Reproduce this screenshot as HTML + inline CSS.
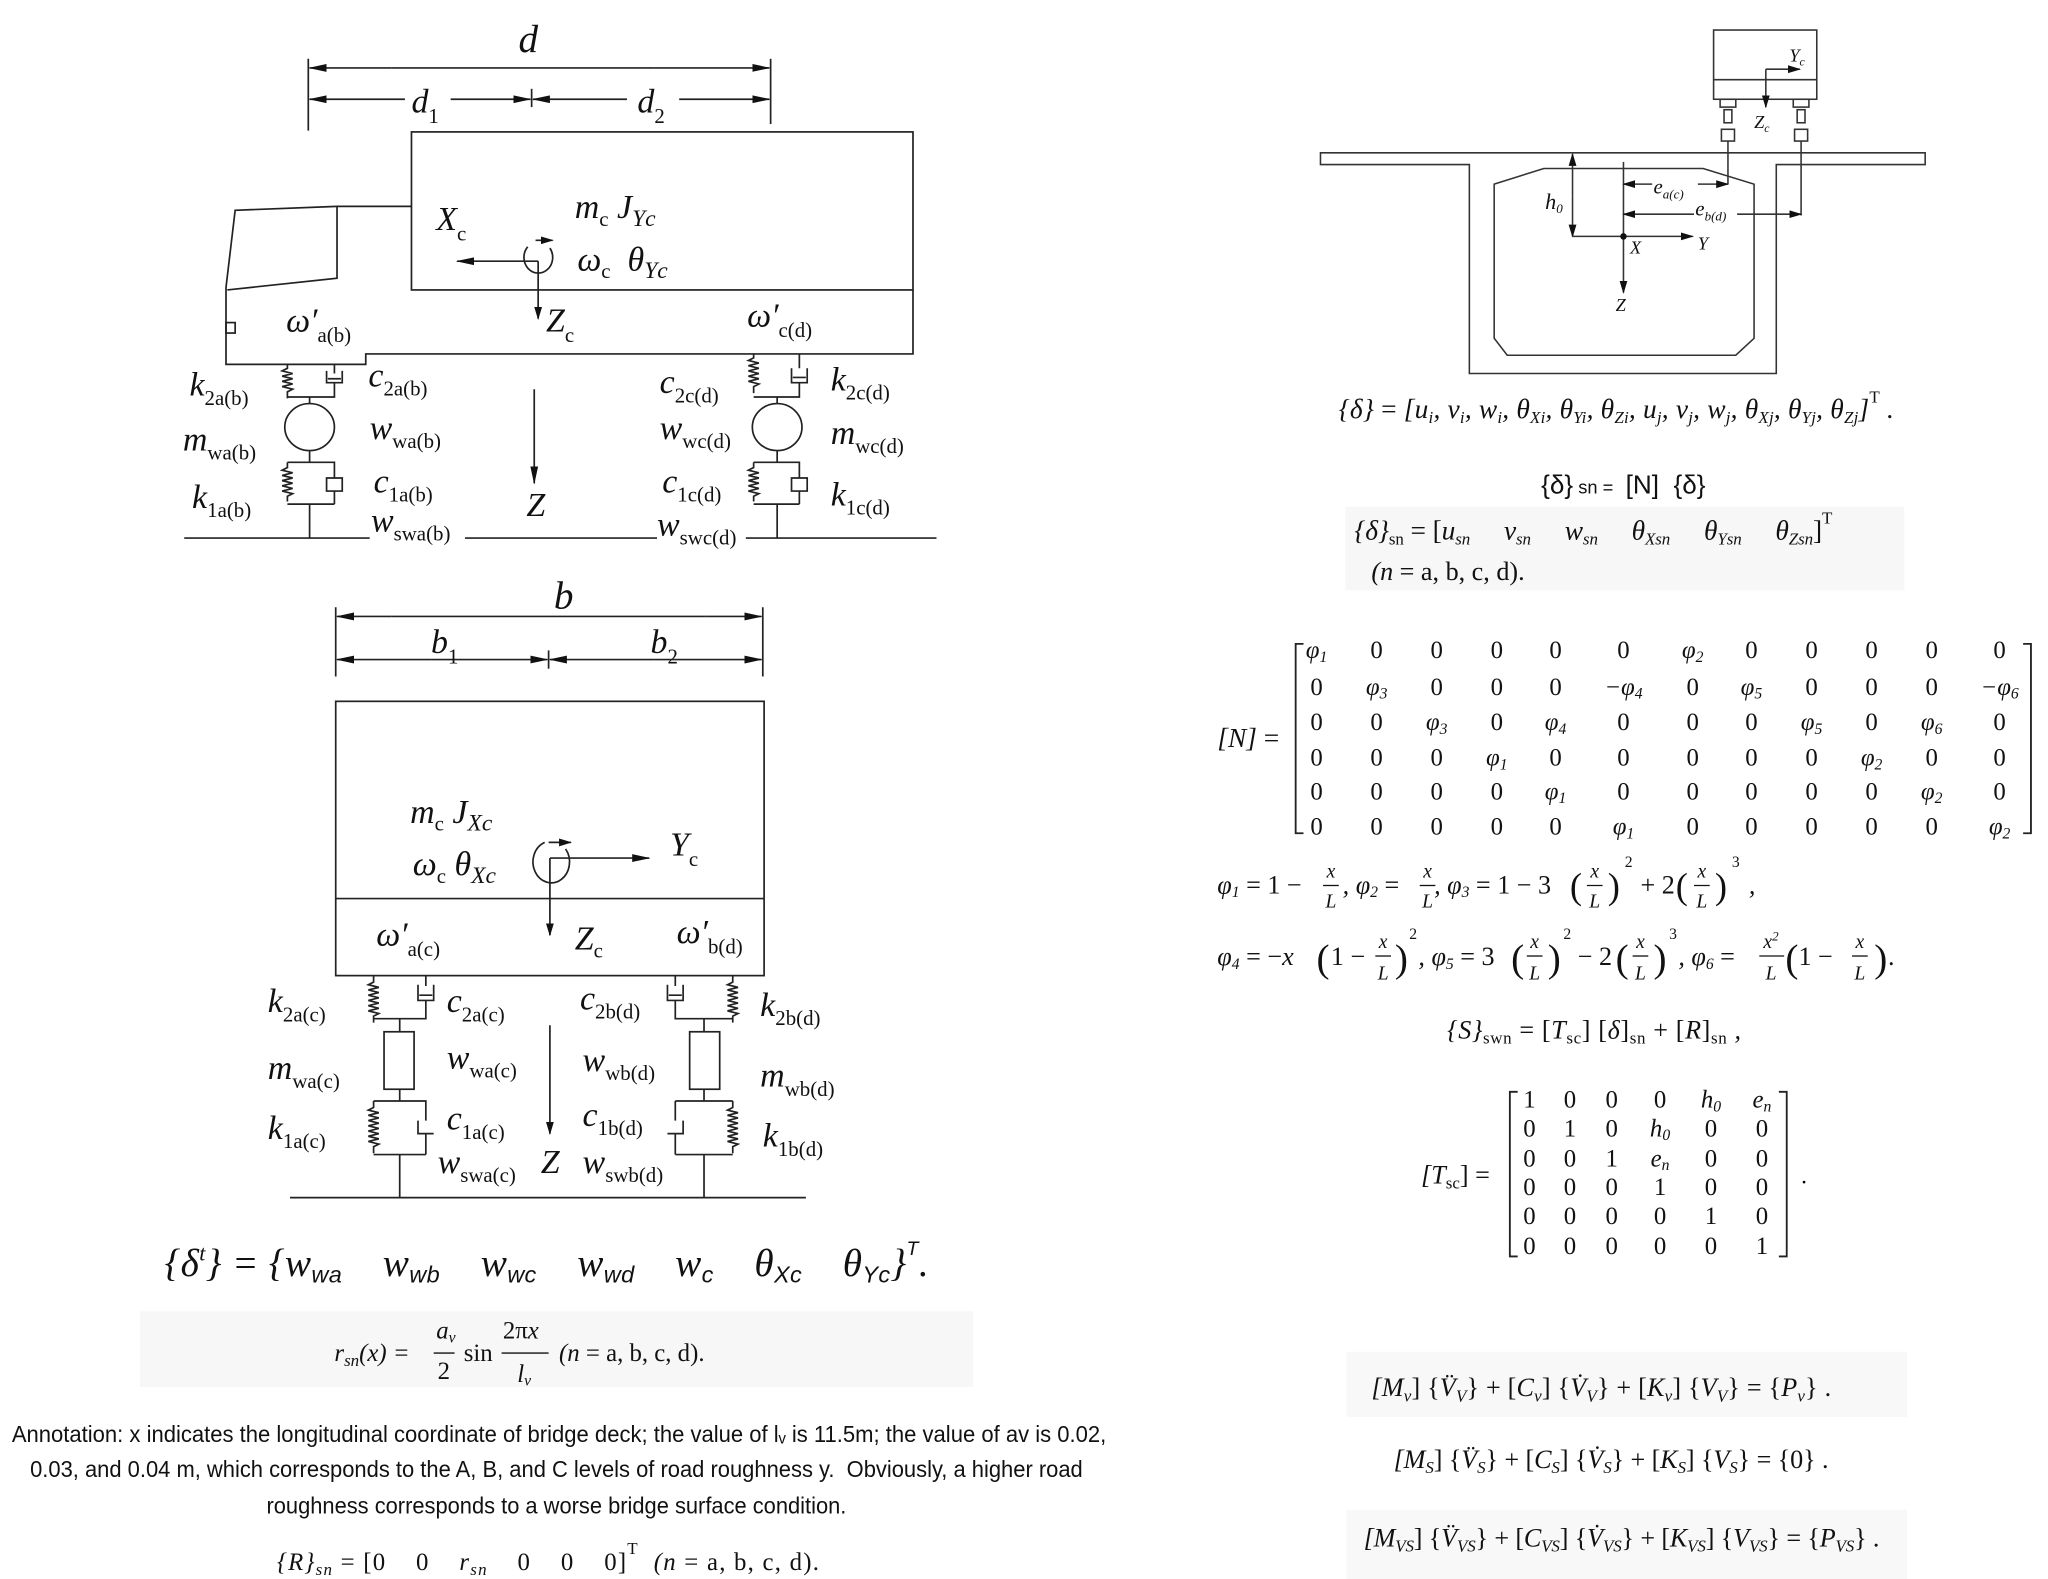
<!DOCTYPE html>
<html><head><meta charset="utf-8"><style>
html,body{margin:0;padding:0;background:#fff;}
svg{display:block}
text{white-space:pre}
.m{font-family:"Liberation Serif",serif;font-style:italic;fill:#111}
.u{font-family:"Liberation Serif",serif;font-style:normal}
.s{font-family:"Liberation Sans",sans-serif;fill:#111}
</style></head><body>
<svg width="2048" height="1579" viewBox="0 0 1568 1209" xmlns="http://www.w3.org/2000/svg">
<defs>
<marker id="a" markerWidth="10" markerHeight="8" refX="9" refY="4" orient="auto" markerUnits="userSpaceOnUse"><path d="M0,1 L10,4 L0,7 Z" fill="#111"/></marker>
<marker id="b" markerWidth="14" markerHeight="8" refX="13" refY="4" orient="auto" markerUnits="userSpaceOnUse"><path d="M0,1 L14,4 L0,7 Z" fill="#111"/></marker>
</defs>
<rect width="1568" height="1209" fill="#fff"/>

<!-- ================= TOP LEFT (side view) ================= -->
<g stroke="#222" stroke-width="1.3" fill="none">
<line x1="236" y1="45" x2="236" y2="100"/><line x1="590" y1="45" x2="590" y2="95"/>
<line x1="407" y1="68" x2="407" y2="82"/>
<line x1="300" y1="52" x2="237" y2="52" marker-end="url(#b)"/><line x1="500" y1="52" x2="589" y2="52" marker-end="url(#b)"/>
<line x1="300" y1="52" x2="500" y2="52"/>
<line x1="310" y1="76" x2="237" y2="76" marker-end="url(#b)"/><line x1="345" y1="76" x2="406" y2="76" marker-end="url(#b)"/>
<line x1="480" y1="76" x2="408" y2="76" marker-end="url(#b)"/><line x1="520" y1="76" x2="589" y2="76" marker-end="url(#b)"/>
<rect x="315" y="101" width="384" height="121"/>
<path d="M315,158 L258,158 L180,161 L173,220 L173,279 L280,279 L280,271 L699,271 L699,222"/>
<path d="M258,158 L258,213 L174,222"/>
<rect x="173" y="247" width="7" height="8"/>
<path d="M404,189 A11,12 0 1 0 421,190" />
<line x1="410" y1="184" x2="423" y2="184" marker-end="url(#a)"/>
<line x1="412" y1="200" x2="350" y2="200" marker-end="url(#b)"/>
<line x1="412" y1="200" x2="412" y2="244" marker-end="url(#a)"/>
<line x1="409" y1="298" x2="409" y2="370" marker-end="url(#b)"/>
<line x1="141" y1="412" x2="283" y2="412"/><line x1="356" y1="412" x2="503" y2="412"/><line x1="571" y1="412" x2="717" y2="412"/>
<path d="M220,279 v3 l-4,2 l8,2 l-8,2 l8,2 l-8,2 l8,2 l-8,2 l8,2 l-4,2 v5 M220,304 H256 V293 M256,279 v7 M250,284 v9 h12 v-9 M251,290 h10"/>
<line x1="237" y1="304" x2="237" y2="309"/>
<ellipse cx="237" cy="327" rx="19" ry="18"/>
<line x1="237" y1="345" x2="237" y2="354"/>
<path d="M220,354 H256 V366 M250,366 h12 v10 h-12 z M256,376 V386 M220,354 v4 l-4,2 l8,2 l-8,2 l8,2 l-8,2 l8,2 l-8,2 l8,2 l-8,2 l8,2 l-4,2 v4 M220,386 H256 M237,386 V412"/>
<path d="M577,271 v3 l-4,2 l8,2 l-8,2 l8,2 l-8,2 l8,2 l-8,2 l8,2 l-8,2 l8,2 l-4,2 v5 M577,304 H612 V293 M612,271 v11 M606,282 v11 h12 v-11 M607,289 h10"/>
<line x1="595" y1="304" x2="595" y2="309"/>
<ellipse cx="595" cy="327" rx="19" ry="18"/>
<line x1="595" y1="345" x2="595" y2="354"/>
<path d="M577,354 H612 V366 M606,366 h12 v10 h-12 z M612,376 V386 M577,354 v4 l-4,2 l8,2 l-8,2 l8,2 l-8,2 l8,2 l-8,2 l8,2 l-8,2 l8,2 l-4,2 v4 M577,386 H612 M595,386 V412"/>
</g>
<g class="m" font-size="26">
<text x="397" y="40" font-size="30">d</text>
<text x="315" y="86">d<tspan class="u" font-size="16" dy="8">1</tspan></text>
<text x="488" y="86">d<tspan class="u" font-size="16" dy="8">2</tspan></text>
<text x="334" y="176">X<tspan class="u" font-size="16" dy="8">c</tspan></text>
<text x="440" y="167">m<tspan class="u" font-size="16" dy="6">c</tspan><tspan dy="-6"> J</tspan><tspan font-size="18" dy="6">Yc</tspan></text>
<text x="442" y="207">ω<tspan class="u" font-size="16" dy="6">c</tspan><tspan dy="-6">  θ</tspan><tspan font-size="18" dy="6">Yc</tspan></text>
<text x="418" y="254">Z<tspan class="u" font-size="16" dy="8">c</tspan></text>
<text x="219" y="254">ω′<tspan class="u" font-size="16" dy="8">a(b)</tspan></text>
<text x="572" y="250">ω′<tspan class="u" font-size="16" dy="8">c(d)</tspan></text>
<text x="145" y="303">k<tspan class="u" font-size="16" dy="7">2a(b)</tspan></text>
<text x="282" y="296">c<tspan class="u" font-size="16" dy="7">2a(b)</tspan></text>
<text x="140" y="345">m<tspan class="u" font-size="16" dy="7">wa(b)</tspan></text>
<text x="283" y="336">w<tspan class="u" font-size="16" dy="7">wa(b)</tspan></text>
<text x="147" y="389">k<tspan class="u" font-size="16" dy="7">1a(b)</tspan></text>
<text x="286" y="377">c<tspan class="u" font-size="16" dy="7">1a(b)</tspan></text>
<text x="284" y="407">w<tspan class="u" font-size="16" dy="7">swa(b)</tspan></text>
<text x="403" y="395">Z</text>
<text x="505" y="301">c<tspan class="u" font-size="16" dy="7">2c(d)</tspan></text>
<text x="505" y="336">w<tspan class="u" font-size="16" dy="7">wc(d)</tspan></text>
<text x="507" y="377">c<tspan class="u" font-size="16" dy="7">1c(d)</tspan></text>
<text x="503" y="410">w<tspan class="u" font-size="16" dy="7">swc(d)</tspan></text>
<text x="636" y="299">k<tspan class="u" font-size="16" dy="7">2c(d)</tspan></text>
<text x="636" y="340">m<tspan class="u" font-size="16" dy="7">wc(d)</tspan></text>
<text x="636" y="387">k<tspan class="u" font-size="16" dy="7">1c(d)</tspan></text>
</g>

<!-- ================= BOTTOM LEFT (front view) ================= -->
<g stroke="#222" stroke-width="1.3" fill="none">
<line x1="257" y1="465" x2="257" y2="518"/><line x1="584" y1="465" x2="584" y2="518"/>
<line x1="420" y1="498" x2="420" y2="512"/>
<line x1="300" y1="472" x2="258" y2="472" marker-end="url(#b)"/><line x1="540" y1="472" x2="583" y2="472" marker-end="url(#b)"/><line x1="300" y1="472" x2="540" y2="472"/>
<line x1="330" y1="505" x2="258" y2="505" marker-end="url(#b)"/><line x1="330" y1="505" x2="419" y2="505" marker-end="url(#b)"/>
<line x1="500" y1="505" x2="421" y2="505" marker-end="url(#b)"/><line x1="500" y1="505" x2="583" y2="505" marker-end="url(#b)"/>
<rect x="257" y="537" width="328" height="210"/>
<line x1="257" y1="688" x2="585" y2="688"/>
<path d="M417,645 A14,16 0 1 0 433,650"/>
<line x1="420" y1="645" x2="437" y2="645" marker-end="url(#a)"/>
<line x1="421" y1="657" x2="497" y2="657" marker-end="url(#b)"/>
<line x1="421" y1="657" x2="421" y2="716" marker-end="url(#a)"/>
<line x1="421" y1="785" x2="421" y2="868" marker-end="url(#a)"/>
<line x1="222" y1="917" x2="617" y2="917"/>
<path d="M286,747 v5 l-4,2 l8,2 l-8,2 l8,2 l-8,2 l8,2 l-8,2 l8,2 l-8,2 l8,2 l-8,2 l8,2 l-4,2 v5 M286,780 H326 V766 M326,747 v8 M320,754 v12 h12 v-12 M321,762 h10"/>
<line x1="306" y1="780" x2="306" y2="790"/>
<rect x="294" y="790" width="23" height="44"/>
<line x1="306" y1="834" x2="306" y2="843"/>
<path d="M286,843 H326 V858 M320,858 v10 h12 M326,868 V884 M286,843 v5 l-4,2 l8,2 l-8,2 l8,2 l-8,2 l8,2 l-8,2 l8,2 l-8,2 l8,2 l-8,2 l8,2 l-8,2 l8,2 l-4,2 v5 M286,884 H326 M306,884 V917"/>
<path d="M561,747 v5 l-4,2 l8,2 l-8,2 l8,2 l-8,2 l8,2 l-8,2 l8,2 l-8,2 l8,2 l-8,2 l8,2 l-4,2 v5 M561,780 H517 V766 M517,747 v8 M511,754 v12 h12 v-12 M512,762 h10"/>
<line x1="539" y1="780" x2="539" y2="790"/>
<rect x="528" y="790" width="23" height="44"/>
<line x1="539" y1="834" x2="539" y2="843"/>
<path d="M517,843 H561 M517,843 V858 M523,858 v10 h-12 M517,868 V884 M561,843 v5 l-4,2 l8,2 l-8,2 l8,2 l-8,2 l8,2 l-8,2 l8,2 l-8,2 l8,2 l-8,2 l8,2 l-8,2 l8,2 l-4,2 v5 M517,884 H561 M539,884 V917"/>
</g>
<g class="m" font-size="26">
<text x="424" y="466" font-size="30">b</text>
<text x="330" y="500">b<tspan class="u" font-size="16" dy="8">1</tspan></text>
<text x="498" y="500">b<tspan class="u" font-size="16" dy="8">2</tspan></text>
<text x="314" y="630">m<tspan class="u" font-size="16" dy="6">c</tspan><tspan dy="-6"> J</tspan><tspan font-size="18" dy="6">Xc</tspan></text>
<text x="316" y="670">ω<tspan class="u" font-size="16" dy="6">c</tspan><tspan dy="-6"> θ</tspan><tspan font-size="18" dy="6">Xc</tspan></text>
<text x="513" y="655">Y<tspan class="u" font-size="16" dy="8">c</tspan></text>
<text x="440" y="727">Z<tspan class="u" font-size="16" dy="6">c</tspan></text>
<text x="288" y="724">ω′<tspan class="u" font-size="16" dy="8">a(c)</tspan></text>
<text x="518" y="722">ω′<tspan class="u" font-size="16" dy="8">b(d)</tspan></text>
<text x="205" y="775">k<tspan class="u" font-size="16" dy="7">2a(c)</tspan></text>
<text x="342" y="775">c<tspan class="u" font-size="16" dy="7">2a(c)</tspan></text>
<text x="205" y="826">m<tspan class="u" font-size="16" dy="7">wa(c)</tspan></text>
<text x="342" y="818">w<tspan class="u" font-size="16" dy="7">wa(c)</tspan></text>
<text x="205" y="872">k<tspan class="u" font-size="16" dy="7">1a(c)</tspan></text>
<text x="342" y="865">c<tspan class="u" font-size="16" dy="7">1a(c)</tspan></text>
<text x="335" y="898">w<tspan class="u" font-size="16" dy="7">swa(c)</tspan></text>
<text x="414" y="898">Z</text>
<text x="444" y="773">c<tspan class="u" font-size="16" dy="7">2b(d)</tspan></text>
<text x="446" y="820">w<tspan class="u" font-size="16" dy="7">wb(d)</tspan></text>
<text x="446" y="862">c<tspan class="u" font-size="16" dy="7">1b(d)</tspan></text>
<text x="446" y="898">w<tspan class="u" font-size="16" dy="7">swb(d)</tspan></text>
<text x="582" y="778">k<tspan class="u" font-size="16" dy="7">2b(d)</tspan></text>
<text x="582" y="832">m<tspan class="u" font-size="16" dy="7">wb(d)</tspan></text>
<text x="584" y="878">k<tspan class="u" font-size="16" dy="7">1b(d)</tspan></text>
</g>

<!-- bottom-left equations -->
<rect x="107" y="1004" width="638" height="58" fill="#f7f7f7"/>
<text class="m" x="126" y="977" font-size="30" textLength="585" lengthAdjust="spacing">{δ<tspan font-size="17" dy="-12">t</tspan><tspan dy="12">} = {</tspan>w<tspan class="s" font-size="18" dy="5">wa</tspan><tspan dy="-5">    w</tspan><tspan class="s" font-size="18" dy="5">wb</tspan><tspan dy="-5">    w</tspan><tspan class="s" font-size="18" dy="5">wc</tspan><tspan dy="-5">    w</tspan><tspan class="s" font-size="18" dy="5">wd</tspan><tspan dy="-5">    w</tspan><tspan class="s" font-size="18" dy="5">c</tspan><tspan dy="-5">    θ</tspan><tspan class="s" font-size="18" dy="5">Xc</tspan><tspan dy="-5">    θ</tspan><tspan class="s" font-size="18" dy="5">Yc</tspan><tspan dy="-5">}</tspan><tspan class="s" font-size="15" dy="-16">T</tspan><tspan dy="16">.</tspan></text>
<g class="m" font-size="19">
<text x="256" y="1042">r<tspan font-size="13" dy="4">sn</tspan><tspan dy="-4">(x) =</tspan></text>
<text x="334" y="1025">a<tspan font-size="12" dy="3">v</tspan></text>
<line x1="332" y1="1036" x2="348" y2="1036" stroke="#111"/>
<text x="335" y="1056" class="u">2</text>
<text x="355" y="1042" class="u">sin</text>
<text x="385" y="1025" class="u">2π<tspan class="m">x</tspan></text>
<line x1="384" y1="1036" x2="420" y2="1036" stroke="#111"/>
<text x="396" y="1058">l<tspan font-size="12" dy="3">v</tspan></text>
<text x="428" y="1042">(n <tspan class="u">= a, b, c, d).</tspan></text>
</g>
<g class="s" font-size="17.5" text-anchor="middle">
<text x="428" y="1104" textLength="838" lengthAdjust="spacingAndGlyphs">Annotation: x indicates the longitudinal coordinate of bridge deck; the value of lᵥ is 11.5m; the value of av is 0.02,</text>
<text x="426" y="1131" textLength="806" lengthAdjust="spacingAndGlyphs">0.03, and 0.04 m, which corresponds to the A, B, and C levels of road roughness y.  Obviously, a higher road</text>
<text x="426" y="1159" textLength="444" lengthAdjust="spacingAndGlyphs">roughness corresponds to a worse bridge surface condition.</text>
</g>
<text class="m" x="212" y="1202" font-size="19" textLength="415" lengthAdjust="spacing">{R}<tspan font-size="13" dy="4">sn</tspan><tspan class="u" dy="-4"> = [0    0    </tspan>r<tspan font-size="13" dy="4">sn</tspan><tspan class="u" dy="-4">    0    0    0]</tspan><tspan class="u" font-size="13" dy="-12">T</tspan><tspan dy="12">  (n </tspan><tspan class="u">= a, b, c, d).</tspan></text>

<!-- ================= TOP RIGHT (bridge) ================= -->
<g stroke="#333" stroke-width="1.2" fill="none">
<rect x="1312" y="23" width="79" height="53"/>
<line x1="1312" y1="61" x2="1391" y2="61"/>
<line x1="1352" y1="53" x2="1378" y2="53" marker-end="url(#a)"/>
<line x1="1352" y1="53" x2="1352" y2="82" marker-end="url(#a)"/>
<rect x="1317" y="76" width="12" height="6"/><rect x="1373" y="76" width="12" height="6"/>
<rect x="1320" y="84" width="6" height="10"/><rect x="1376" y="84" width="6" height="10"/>
<rect x="1318" y="99" width="10" height="9"/><rect x="1374" y="99" width="10" height="9"/>
<path d="M1011,117 H1474 V126 H1360 V286 H1125 V126 H1011 Z"/>
<path d="M1144,141 L1182,129 L1304,129 L1343,141 L1343,259 L1329,272 L1154,272 L1144,259 Z"/>
<line x1="1323" y1="108" x2="1323" y2="141"/>
<line x1="1379" y1="108" x2="1379" y2="165"/>
<line x1="1243" y1="124" x2="1243" y2="181"/>
<line x1="1204" y1="150" x2="1204" y2="118" marker-end="url(#a)"/>
<line x1="1204" y1="150" x2="1204" y2="181" marker-end="url(#a)"/>
<line x1="1204" y1="181" x2="1296" y2="181" marker-end="url(#a)"/>
<line x1="1243" y1="181" x2="1243" y2="224" marker-end="url(#a)"/>
<line x1="1265" y1="141" x2="1243" y2="141" marker-end="url(#a)"/>
<line x1="1300" y1="141" x2="1323" y2="141" marker-end="url(#a)"/>
<line x1="1297" y1="164" x2="1243" y2="164" marker-end="url(#a)"/>
<line x1="1330" y1="164" x2="1379" y2="164" marker-end="url(#a)"/>
</g>
<circle cx="1243" cy="181" r="2.5" fill="#111"/>
<g class="m" font-size="14" fill="#333">
<text x="1370" y="47">Y<tspan font-size="9" dy="3">c</tspan></text>
<text x="1343" y="98">Z<tspan font-size="9" dy="3">c</tspan></text>
<text x="1183" y="160" font-size="17">h<tspan font-size="10" dy="3">0</tspan></text>
<text x="1266" y="148" font-size="16">e<tspan font-size="10" dy="4">a(c)</tspan></text>
<text x="1298" y="165" font-size="16">e<tspan font-size="10" dy="4">b(d)</tspan></text>
<text x="1248" y="194">X</text>
<text x="1300" y="191">Y</text>
<text x="1237" y="238">Z</text>
</g>

<!-- right equations -->
<text class="m" x="1025" y="320" font-size="21" textLength="425" lengthAdjust="spacing">{δ} <tspan class="u">=</tspan> [u<tspan font-size="13" dy="4">i</tspan><tspan dy="-4">, v</tspan><tspan font-size="13" dy="4">i</tspan><tspan dy="-4">, w</tspan><tspan font-size="13" dy="4">i</tspan><tspan dy="-4">, θ</tspan><tspan font-size="13" dy="4">Xi</tspan><tspan dy="-4">, θ</tspan><tspan font-size="13" dy="4">Yi</tspan><tspan dy="-4">, θ</tspan><tspan font-size="13" dy="4">Zi</tspan><tspan dy="-4">, u</tspan><tspan font-size="13" dy="4">j</tspan><tspan dy="-4">, v</tspan><tspan font-size="13" dy="4">j</tspan><tspan dy="-4">, w</tspan><tspan font-size="13" dy="4">j</tspan><tspan dy="-4">, θ</tspan><tspan font-size="13" dy="4">Xj</tspan><tspan dy="-4">, θ</tspan><tspan font-size="13" dy="4">Yj</tspan><tspan dy="-4">, θ</tspan><tspan font-size="13" dy="4">Zj</tspan><tspan dy="-4">]</tspan><tspan class="u" font-size="13" dy="-12">T</tspan><tspan dy="12"> .</tspan></text>
<text class="s" x="1180" y="378" font-size="20">{δ}<tspan font-size="14"> sn = </tspan> [N]  {δ}</text>
<rect x="1030" y="388" width="428" height="64" fill="#f7f7f7"/>
<text class="m" x="1037" y="413" font-size="21" textLength="366" lengthAdjust="spacing">{δ}<tspan class="u" font-size="13" dy="4">sn</tspan><tspan class="u" dy="-4"> = [</tspan>u<tspan font-size="13" dy="4">sn</tspan><tspan dy="-4">     v</tspan><tspan font-size="13" dy="4">sn</tspan><tspan dy="-4">     w</tspan><tspan font-size="13" dy="4">sn</tspan><tspan dy="-4">     θ</tspan><tspan font-size="13" dy="4">Xsn</tspan><tspan dy="-4">     θ</tspan><tspan font-size="13" dy="4">Ysn</tspan><tspan dy="-4">     θ</tspan><tspan font-size="13" dy="4">Zsn</tspan><tspan class="u" dy="-4">]</tspan><tspan class="u" font-size="13" dy="-12">T</tspan></text>
<text class="m" x="1050" y="444" font-size="20">(n <tspan class="u">= a, b, c, d).</tspan></text>

<!-- [N] matrix -->
<text class="m" x="932" y="572" font-size="21">[N] <tspan class="u">=</tspan></text>
<path d="M998,493 H992 V638 H998 M1549,493 H1555 V638 H1549" stroke="#222" stroke-width="1.4" fill="none"/>
<g class="m" font-size="19" text-anchor="middle">
<text y="504"><tspan x="1008">φ<tspan font-size="12" dy="3">1</tspan></tspan><tspan x="1054" class="u" dy="-3">0</tspan><tspan x="1100" class="u">0</tspan><tspan x="1146" class="u">0</tspan><tspan x="1191" class="u">0</tspan><tspan x="1243" class="u">0</tspan><tspan x="1296">φ<tspan font-size="12" dy="3">2</tspan></tspan><tspan x="1341" class="u" dy="-3">0</tspan><tspan x="1387" class="u">0</tspan><tspan x="1433" class="u">0</tspan><tspan x="1479" class="u">0</tspan><tspan x="1531" class="u">0</tspan></text>
<text y="532"><tspan x="1008" class="u">0</tspan><tspan x="1054">φ<tspan font-size="12" dy="3">3</tspan></tspan><tspan x="1100" class="u" dy="-3">0</tspan><tspan x="1146" class="u">0</tspan><tspan x="1191" class="u">0</tspan><tspan x="1243">−φ<tspan font-size="12" dy="3">4</tspan></tspan><tspan x="1296" class="u" dy="-3">0</tspan><tspan x="1341">φ<tspan font-size="12" dy="3">5</tspan></tspan><tspan x="1387" class="u" dy="-3">0</tspan><tspan x="1433" class="u">0</tspan><tspan x="1479" class="u">0</tspan><tspan x="1531">−φ<tspan font-size="12" dy="3">6</tspan></tspan></text>
<text y="559"><tspan x="1008" class="u">0</tspan><tspan x="1054" class="u">0</tspan><tspan x="1100">φ<tspan font-size="12" dy="3">3</tspan></tspan><tspan x="1146" class="u" dy="-3">0</tspan><tspan x="1191">φ<tspan font-size="12" dy="3">4</tspan></tspan><tspan x="1243" class="u" dy="-3">0</tspan><tspan x="1296" class="u">0</tspan><tspan x="1341" class="u">0</tspan><tspan x="1387">φ<tspan font-size="12" dy="3">5</tspan></tspan><tspan x="1433" class="u" dy="-3">0</tspan><tspan x="1479">φ<tspan font-size="12" dy="3">6</tspan></tspan><tspan x="1531" class="u" dy="-3">0</tspan></text>
<text y="586"><tspan x="1008" class="u">0</tspan><tspan x="1054" class="u">0</tspan><tspan x="1100" class="u">0</tspan><tspan x="1146">φ<tspan font-size="12" dy="3">1</tspan></tspan><tspan x="1191" class="u" dy="-3">0</tspan><tspan x="1243" class="u">0</tspan><tspan x="1296" class="u">0</tspan><tspan x="1341" class="u">0</tspan><tspan x="1387" class="u">0</tspan><tspan x="1433">φ<tspan font-size="12" dy="3">2</tspan></tspan><tspan x="1479" class="u" dy="-3">0</tspan><tspan x="1531" class="u">0</tspan></text>
<text y="612"><tspan x="1008" class="u">0</tspan><tspan x="1054" class="u">0</tspan><tspan x="1100" class="u">0</tspan><tspan x="1146" class="u">0</tspan><tspan x="1191">φ<tspan font-size="12" dy="3">1</tspan></tspan><tspan x="1243" class="u" dy="-3">0</tspan><tspan x="1296" class="u">0</tspan><tspan x="1341" class="u">0</tspan><tspan x="1387" class="u">0</tspan><tspan x="1433" class="u">0</tspan><tspan x="1479">φ<tspan font-size="12" dy="3">2</tspan></tspan><tspan x="1531" class="u" dy="-3">0</tspan></text>
<text y="639"><tspan x="1008" class="u">0</tspan><tspan x="1054" class="u">0</tspan><tspan x="1100" class="u">0</tspan><tspan x="1146" class="u">0</tspan><tspan x="1191" class="u">0</tspan><tspan x="1243">φ<tspan font-size="12" dy="3">1</tspan></tspan><tspan x="1296" class="u" dy="-3">0</tspan><tspan x="1341" class="u">0</tspan><tspan x="1387" class="u">0</tspan><tspan x="1433" class="u">0</tspan><tspan x="1479" class="u">0</tspan><tspan x="1531">φ<tspan font-size="12" dy="3">2</tspan></tspan></text>
</g>
<!-- phi definitions: line 1 -->
<g class="m" font-size="20" fill="#111">
<text x="932" y="684">φ<tspan font-size="12" dy="3">1</tspan><tspan class="u" dy="-3"> = 1 −</tspan></text>
<text x="1028" y="684">, φ<tspan font-size="12" dy="3">2</tspan><tspan class="u" dy="-3"> =</tspan></text>
<text x="1098" y="684">, φ<tspan font-size="12" dy="3">3</tspan><tspan class="u" dy="-3"> = 1 − 3</tspan></text>
<text x="1256" y="684" class="u">+ 2</text>
<text x="1339" y="684">,</text>
<g class="u" font-size="28"><text x="1202" y="688">(</text><text x="1231" y="688">)</text><text x="1283" y="688">(</text><text x="1313" y="688">)</text></g>
<g class="u" font-size="12"><text x="1244" y="664">2</text><text x="1326" y="664">3</text></g>
<g font-size="15" text-anchor="middle">
<text x="1019" y="672">x</text><text x="1019" y="695">L</text>
<text x="1093" y="672">x</text><text x="1093" y="695">L</text>
<text x="1221" y="672">x</text><text x="1221" y="695">L</text>
<text x="1303" y="672">x</text><text x="1303" y="695">L</text>
</g>
<g stroke="#111" stroke-width="1"><line x1="1013" y1="678" x2="1025" y2="678"/><line x1="1087" y1="678" x2="1099" y2="678"/><line x1="1215" y1="678" x2="1227" y2="678"/><line x1="1297" y1="678" x2="1309" y2="678"/></g>
<!-- line 2 -->
<text x="932" y="739">φ<tspan font-size="12" dy="3">4</tspan><tspan class="u" dy="-3"> = −</tspan>x</text>
<text x="1019" y="739" class="u">1 −</text>
<text x="1086" y="739">, φ<tspan font-size="12" dy="3">5</tspan><tspan class="u" dy="-3"> = 3</tspan></text>
<text x="1208" y="739" class="u">− 2</text>
<text x="1285" y="739">, φ<tspan font-size="12" dy="3">6</tspan><tspan class="u" dy="-3"> =</tspan></text>
<text x="1377" y="739" class="u">1 −</text>
<text x="1446" y="739">.</text>
<g class="u" font-size="30"><text x="1008" y="744">(</text><text x="1068" y="744">)</text><text x="1157" y="744">(</text><text x="1185" y="744">)</text><text x="1237" y="744">(</text><text x="1266" y="744">)</text><text x="1367" y="744">(</text><text x="1435" y="744">)</text></g>
<g class="u" font-size="12"><text x="1079" y="719">2</text><text x="1197" y="719">2</text><text x="1278" y="719">3</text></g>
<g font-size="15" text-anchor="middle">
<text x="1059" y="726">x</text><text x="1059" y="750">L</text>
<text x="1175" y="726">x</text><text x="1175" y="750">L</text>
<text x="1256" y="726">x</text><text x="1256" y="750">L</text>
<text x="1356" y="726">x<tspan font-size="10" dy="-6">2</tspan></text><text x="1356" y="750">L</text>
<text x="1424" y="726">x</text><text x="1424" y="750">L</text>
</g>
<g stroke="#111" stroke-width="1"><line x1="1053" y1="732" x2="1065" y2="732"/><line x1="1169" y1="732" x2="1181" y2="732"/><line x1="1250" y1="732" x2="1262" y2="732"/><line x1="1347" y1="732" x2="1366" y2="732"/><line x1="1418" y1="732" x2="1430" y2="732"/></g>
</g>
<text class="m" x="1108" y="795" font-size="20" textLength="225" lengthAdjust="spacing">{S}<tspan class="u" font-size="13" dy="4">swn</tspan><tspan class="u" dy="-4"> = [</tspan>T<tspan class="u" font-size="13" dy="4">sc</tspan><tspan class="u" dy="-4">] [</tspan>δ<tspan class="u">]</tspan><tspan class="u" font-size="13" dy="4">sn</tspan><tspan class="u" dy="-4"> + [</tspan>R<tspan class="u">]</tspan><tspan class="u" font-size="13" dy="4">sn</tspan><tspan dy="-4"> ,</tspan></text>
<!-- Tsc -->
<text class="m" x="1088" y="906" font-size="20">[T<tspan class="u" font-size="13" dy="4">sc</tspan><tspan class="u" dy="-4">] =</tspan></text>
<path d="M1162,836 H1156 V962 H1162 M1362,836 H1368 V962 H1362" stroke="#222" stroke-width="1.4" fill="none"/>
<text x="1379" y="906" font-size="18">.</text>
<g class="u" font-family="Liberation Serif,serif" font-size="19" text-anchor="middle" fill="#111">
<text y="848"><tspan x="1171">1</tspan><tspan x="1202">0</tspan><tspan x="1234">0</tspan><tspan x="1271">0</tspan><tspan x="1310" font-style="italic">h<tspan font-size="12" dy="3">0</tspan></tspan><tspan x="1349" font-style="italic" dy="-3">e<tspan font-size="12" dy="3">n</tspan></tspan></text>
<text y="870"><tspan x="1171">0</tspan><tspan x="1202">1</tspan><tspan x="1234">0</tspan><tspan x="1271" font-style="italic">h<tspan font-size="12" dy="3">0</tspan></tspan><tspan x="1310" dy="-3">0</tspan><tspan x="1349">0</tspan></text>
<text y="893"><tspan x="1171">0</tspan><tspan x="1202">0</tspan><tspan x="1234">1</tspan><tspan x="1271" font-style="italic">e<tspan font-size="12" dy="3">n</tspan></tspan><tspan x="1310" dy="-3">0</tspan><tspan x="1349">0</tspan></text>
<text y="915"><tspan x="1171">0</tspan><tspan x="1202">0</tspan><tspan x="1234">0</tspan><tspan x="1271">1</tspan><tspan x="1310">0</tspan><tspan x="1349">0</tspan></text>
<text y="937"><tspan x="1171">0</tspan><tspan x="1202">0</tspan><tspan x="1234">0</tspan><tspan x="1271">0</tspan><tspan x="1310">1</tspan><tspan x="1349">0</tspan></text>
<text y="960"><tspan x="1171">0</tspan><tspan x="1202">0</tspan><tspan x="1234">0</tspan><tspan x="1271">0</tspan><tspan x="1310">0</tspan><tspan x="1349">1</tspan></text>
</g>
<!-- equations of motion -->
<rect x="1031" y="1035" width="429" height="50" fill="#f8f8f8"/>
<rect x="1031" y="1156" width="429" height="53" fill="#f8f8f8"/>
<g class="m" font-size="20">
<text x="1050" y="1069" textLength="352" lengthAdjust="spacing">[M<tspan font-size="13" dy="4">v</tspan><tspan class="u" dy="-4">] {</tspan>V̈<tspan font-size="13" dy="4">V</tspan><tspan class="u" dy="-4">} + [</tspan>C<tspan font-size="13" dy="4">v</tspan><tspan class="u" dy="-4">] {</tspan>V̇<tspan font-size="13" dy="4">V</tspan><tspan class="u" dy="-4">} + [</tspan>K<tspan font-size="13" dy="4">v</tspan><tspan class="u" dy="-4">] {</tspan>V<tspan font-size="13" dy="4">V</tspan><tspan class="u" dy="-4">} = {</tspan>P<tspan font-size="13" dy="4">v</tspan><tspan class="u" dy="-4">} .</tspan></text>
<text x="1067" y="1124" textLength="333" lengthAdjust="spacing">[M<tspan font-size="13" dy="4">S</tspan><tspan class="u" dy="-4">] {</tspan>V̈<tspan font-size="13" dy="4">S</tspan><tspan class="u" dy="-4">} + [</tspan>C<tspan font-size="13" dy="4">S</tspan><tspan class="u" dy="-4">] {</tspan>V̇<tspan font-size="13" dy="4">S</tspan><tspan class="u" dy="-4">} + [</tspan>K<tspan font-size="13" dy="4">S</tspan><tspan class="u" dy="-4">] {</tspan>V<tspan font-size="13" dy="4">S</tspan><tspan class="u" dy="-4">} = {0} .</tspan></text>
<text x="1044" y="1184" textLength="395" lengthAdjust="spacing">[M<tspan font-size="13" dy="4">VS</tspan><tspan class="u" dy="-4">] {</tspan>V̈<tspan font-size="13" dy="4">VS</tspan><tspan class="u" dy="-4">} + [</tspan>C<tspan font-size="13" dy="4">VS</tspan><tspan class="u" dy="-4">] {</tspan>V̇<tspan font-size="13" dy="4">VS</tspan><tspan class="u" dy="-4">} + [</tspan>K<tspan font-size="13" dy="4">VS</tspan><tspan class="u" dy="-4">] {</tspan>V<tspan font-size="13" dy="4">VS</tspan><tspan class="u" dy="-4">} = {</tspan>P<tspan font-size="13" dy="4">VS</tspan><tspan class="u" dy="-4">} .</tspan></text>
</g>
</svg>
</body></html>
